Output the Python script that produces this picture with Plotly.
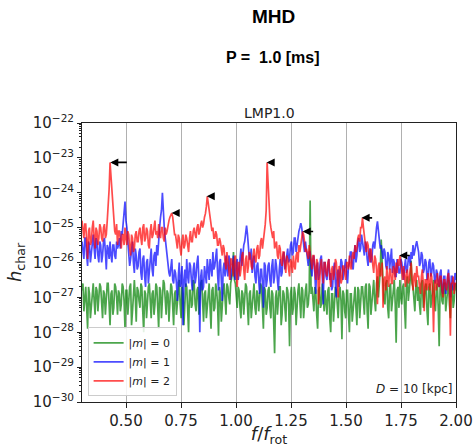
import numpy as np
import plotly.graph_objects as go

# ---------------- data (log10 of characteristic strain) ----------------
F_START, F_STOP = 0.30, 2.00

LOG_H_M0 = [
    -26.8,-26.6,-27.4,-27.0,-26.7,-27.3,-27.9,-26.7,-26.9,-27.6,-27.2,-26.8,-26.6,-27.1,-27.5,-26.7,-26.8,-27.4,-27.1,-26.6,
    -26.7,-27.2,-27.6,-26.8,-26.9,-27.5,-27.0,-26.6,-26.6,-27.2,-27.8,-26.9,-26.8,-27.5,-27.3,-26.6,-26.7,-27.0,-27.5,-26.8,
    -26.9,-27.4,-27.2,-26.6,-26.7,-27.1,-27.9,-26.8,-26.8,-27.5,-27.0,-26.7,-26.6,-27.8,-27.4,-26.9,-26.5,-27.0,-27.7,-26.7,
    -26.8,-27.1,-27.3,-26.6,-26.7,-27.4,-28.0,-26.8,-26.9,-27.6,-27.1,-26.7,-26.6,-27.2,-27.6,-26.9,-26.8,-27.5,-27.2,-26.6,
    -26.7,-27.3,-27.9,-26.7,-26.8,-27.6,-27.0,-26.5,-26.6,-27.3,-27.5,-26.8,-26.9,-27.7,-27.2,-26.6,-26.7,-27.1,-27.8,-26.9,
    -26.8,-27.5,-27.1,-26.6,-26.5,-27.2,-27.6,-26.7,-26.9,-27.8,-27.3,-26.6,-26.7,-27.4,-28.0,-26.8,-26.8,-27.3,-27.2,-26.5,
    -26.6,-27.2,-27.4,-26.8,-26.7,-27.5,-27.0,-26.6,-26.5,-27.1,-27.7,-26.9,-26.8,-27.6,-27.2,-26.7,-26.6,-27.3,-27.9,-26.8,
    -26.7,-27.4,-27.3,-26.6,-26.8,-27.2,-28.1,-26.7,-26.9,-27.7,-27.1,-26.8,-26.6,-27.3,-27.5,-26.6,-26.7,-27.0,-27.2,-26.6,
    -26.4,-26.3,-25.7,-26.5,-26.6,-27.1,-27.3,-26.7,-26.8,-27.3,-27.6,-26.8,-26.9,-27.5,-27.1,-26.6,-26.7,-27.2,-27.8,-26.9,
    -26.8,-27.6,-27.2,-26.7,-26.6,-27.3,-27.5,-26.8,-26.9,-27.4,-27.0,-26.6,-26.7,-27.2,-27.9,-26.7,-26.8,-27.5,-27.3,-26.8,
    -26.7,-27.3,-27.6,-26.8,-26.9,-27.7,-28.6,-27.0,-26.8,-27.5,-27.2,-26.7,-26.7,-27.8,-27.5,-26.8,-26.9,-27.4,-27.7,-26.7,
    -26.8,-27.2,-28.4,-26.9,-26.7,-27.5,-27.3,-26.7,-26.9,-27.8,-27.1,-26.8,-26.6,-27.4,-27.6,-26.7,-26.8,-27.6,-27.0,-26.8,
    -26.6,-27.3,-27.2,-26.8,-24.22,-26.9,-26.7,-27.2,-27.4,-26.7,-26.8,-27.5,-27.9,-26.8,-26.7,-27.3,-27.2,-26.6,-26.9,-27.4,
    -26.8,-27.3,-27.5,-26.8,-26.7,-27.6,-28.0,-26.9,-26.9,-27.7,-27.2,-26.7,-26.8,-27.4,-27.6,-26.9,-26.7,-27.1,-28.2,-26.8,
    -26.9,-27.4,-27.6,-26.8,-26.8,-27.5,-28.0,-26.9,-26.9,-27.7,-27.3,-26.8,-26.7,-27.3,-27.8,-26.7,-26.8,-27.6,-27.2,-26.7,
    -26.7,-27.2,-27.5,-26.7,-26.6,-27.4,-27.9,-26.6,-26.7,-27.5,-27.1,-26.6,-26.5,-27.1,-27.4,-26.6,-26.4,-27.0,-26.6,-26.2,
    -25.34,-26.3,-26.6,-27.1,-27.2,-26.6,-26.5,-27.3,-27.6,-26.7,-26.6,-27.4,-27.0,-26.6,-26.5,-27.2,-28.3,-26.8,-26.7,-27.3,
    -26.5,-27.0,-27.2,-26.7,-26.6,-27.3,-27.9,-26.6,-26.4,-27.1,-26.8,-26.5,-25.95,-26.6,-26.7,-27.2,-27.4,-26.7,-26.5,-27.1,
    -26.7,-27.2,-27.5,-26.6,-26.5,-27.3,-27.1,-26.7,-26.6,-27.4,-27.8,-26.7,-26.6,-27.3,-27.0,-26.6,-26.5,-27.1,-27.4,-26.8,
    -26.6,-27.3,-28.4,-26.7,-26.5,-27.1,-27.2,-26.6,-26.6,-27.4,-27.0,-26.7,-26.5,-27.2,-27.6,-26.6,-26.7,-27.3,-27.1,-26.6,
    -26.8,
]

LOG_H_M1 = [
    -25.4,-25.7,-25.9,-25.3,-25.3,-25.8,-26.1,-25.4,-25.5,-26.0,-25.7,-25.3,-25.2,-25.6,-25.9,-25.3,-25.4,-25.8,-26.0,-25.4,
    -25.5,-26.0,-25.8,-25.4,-25.3,-25.7,-26.2,-25.5,-25.6,-25.9,-25.4,-25.8,-26.0,-25.5,-25.5,-25.8,-25.9,-25.4,-25.6,-25.5,
    -25.3,-25.6,-25.1,-25.2,-24.9,-24.7,-24.25,-24.8,-25.0,-25.4,-25.7,-26.1,-25.9,-25.5,-25.4,-26.0,-26.3,-25.6,-25.8,-26.2,
    -26.1,-25.7,-25.6,-26.3,-26.5,-25.9,-25.8,-26.4,-26.7,-26.0,-25.9,-26.6,-26.2,-25.7,-25.6,-26.2,-26.4,-25.8,-25.7,-26.1,
    -25.5,-25.8,-25.2,-25.0,-24.7,-24.5,-24.0,-24.6,-25.0,-25.3,-25.6,-25.9,-26.0,-26.3,-26.4,-26.0,-25.9,-26.5,-26.6,-26.2,
    -26.3,-26.6,-27.1,-26.4,-26.0,-26.7,-26.5,-26.1,-27.8,-26.5,-26.2,-26.7,-25.9,-26.4,-26.6,-26.0,-26.1,-26.5,-26.8,-26.2,
    -26.0,-26.6,-26.4,-26.0,-25.8,-26.5,-28.0,-26.4,-26.2,-26.8,-26.7,-26.1,-26.3,-26.6,-25.9,-26.3,-26.5,-25.9,-26.1,-26.4,
    -25.7,-26.2,-26.1,-25.8,-25.6,-26.3,-26.8,-26.0,-25.9,-26.5,-27.1,-26.2,-26.0,-26.4,-25.8,-26.2,-26.4,-25.8,-25.9,-26.5,
    -26.2,-25.9,-25.8,-26.4,-26.5,-26.0,-25.9,-26.5,-26.3,-25.9,-25.6,-26.1,-25.7,-25.5,-25.4,-25.2,-24.94,-25.2,-25.5,-25.9,
    -25.9,-25.6,-26.3,-26.0,-25.8,-26.4,-26.6,-26.1,-26.0,-26.5,-26.9,-26.2,-26.2,-26.6,-27.3,-26.0,-26.1,-26.7,-26.5,-26.1,
    -26.0,-26.5,-26.7,-26.1,-25.9,-26.6,-26.4,-25.9,-26.1,-26.5,-26.8,-26.2,-25.9,-26.4,-26.3,-25.8,-25.7,-26.2,-26.0,-25.7,
    -25.6,-26.0,-25.9,-25.5,-25.4,-25.8,-25.7,-25.3,-25.3,-25.7,-25.5,-25.2,-25.1,-25.0,-24.87,-25.0,-25.3,-25.6,-25.7,-25.4,
    -25.6,-25.9,-26.1,-25.7,-25.7,-26.2,-26.4,-25.9,-25.8,-26.3,-26.9,-26.1,-26.0,-26.5,-26.3,-25.9,-25.8,-26.4,-27.2,-26.0,
    -26.0,-26.4,-26.5,-26.1,-25.9,-26.5,-26.3,-26.8,-26.7,-26.2,-26.0,-26.6,-27.0,-26.3,-26.2,-26.7,-26.4,-25.9,-26.0,-26.5,
    -26.3,-26.0,-25.9,-26.3,-26.6,-26.1,-26.0,-25.7,-25.7,-26.1,-26.2,-25.8,-25.5,-26.0,-25.8,-25.4,-25.3,-25.7,-25.6,-25.2,
    -25.4,-25.7,-25.8,-25.4,-25.5,-25.9,-26.1,-25.7,-25.6,-26.0,-25.9,-25.5,-25.4,-25.6,-25.2,-25.0,-24.82,-25.1,-25.3,-25.6,
    -25.5,-25.8,-25.9,-25.6,-25.7,-26.1,-26.2,-25.7,-25.8,-26.2,-25.9,-25.6,-26.3,-25.9,-26.0,-26.4,-26.4,-25.9,-26.1,-26.3,
    -26.3,-25.9,-26.0,-26.4,-26.5,-26.1,-25.9,-26.3,-26.2,-25.9,-25.8,-26.1,-25.7,-25.9,-25.5,-25.8,-25.6,-25.5,-25.39,-25.6,
    -25.7,-26.1,-26.0,-25.7,-25.8,-26.3,-26.2,-25.9,-26.0,-26.5,-26.4,-26.0,-25.9,-26.4,-26.3,-26.0,-26.1,-26.5,-26.6,-26.2,
    -26.3,-26.6,-26.7,-26.3,-26.2,-26.8,-26.9,-26.4,-26.4,-26.9,-26.6,-26.3,-26.2,-26.7,-27.0,-26.4,-26.4,-26.8,-26.7,-26.3,
    -26.5,
]

LOG_H_M2 = [
    -24.8,-25.2,-25.3,-24.9,-24.9,-25.4,-25.9,-25.1,-25.0,-25.5,-25.4,-25.0,-24.8,-25.3,-25.6,-25.0,-25.1,-25.5,-25.3,-24.9,
    -25.0,-25.3,-25.4,-25.0,-24.9,-25.3,-25.2,-24.8,-24.4,-23.9,-23.13,-23.6,-24.0,-24.5,-24.8,-25.1,-25.2,-24.9,-25.5,-25.1,
    -25.1,-25.4,-25.6,-25.2,-25.2,-25.5,-25.0,-25.3,-25.5,-25.1,-25.2,-25.6,-25.8,-25.2,-25.3,-25.7,-25.6,-25.2,-25.1,-25.4,
    -25.4,-25.1,-25.0,-25.3,-25.5,-25.0,-24.9,-25.4,-25.3,-25.0,-25.1,-25.5,-25.6,-25.1,-24.9,-25.3,-25.2,-25.0,-24.8,-25.2,
    -25.1,-25.3,-24.9,-25.2,-25.3,-25.0,-25.0,-25.3,-25.4,-25.0,-25.2,-25.1,-24.9,-24.8,-24.7,-24.6,-24.58,-24.7,-25.0,-25.2,
    -25.2,-25.5,-25.6,-25.2,-25.3,-25.6,-25.8,-25.4,-25.2,-25.6,-25.5,-25.2,-25.3,-25.5,-25.7,-25.3,-25.1,-25.4,-25.4,-25.1,
    -25.0,-25.2,-25.3,-25.0,-24.9,-25.2,-25.1,-24.9,-24.8,-25.0,-24.9,-24.7,-24.6,-24.4,-24.10,-24.3,-24.5,-24.7,-24.9,-25.1,
    -25.0,-25.3,-25.3,-25.1,-25.2,-25.5,-25.5,-25.3,-25.4,-25.7,-25.8,-25.5,-25.6,-26.0,-26.2,-25.7,-25.9,-26.2,-26.5,-25.9,
    -25.9,-26.2,-26.4,-25.9,-25.8,-26.3,-26.7,-26.0,-26.0,-26.4,-26.2,-25.8,-25.7,-26.2,-26.5,-25.9,-25.8,-26.3,-26.1,-25.7,
    -25.8,-26.1,-26.2,-25.8,-25.6,-25.9,-26.0,-25.6,-25.5,-25.9,-25.8,-25.4,-25.3,-25.6,-25.4,-25.1,-24.9,-24.5,-23.13,-23.7,
    -24.4,-24.8,-25.0,-25.2,-25.3,-25.1,-25.6,-25.5,-25.4,-25.8,-25.9,-25.5,-25.6,-26.0,-26.1,-25.7,-25.7,-26.1,-26.3,-25.8,
    -25.9,-26.2,-26.4,-25.9,-26.0,-26.3,-25.8,-26.1,-26.2,-25.8,-25.7,-26.0,-25.5,-25.7,-25.4,-25.3,-25.11,-25.2,-25.4,-25.7,
    -25.6,-25.8,-25.9,-25.5,-25.7,-26.0,-26.2,-25.8,-25.8,-26.2,-26.5,-25.9,-26.0,-27.2,-26.3,-26.1,-25.9,-26.3,-26.6,-26.0,
    -26.0,-26.3,-26.4,-26.0,-25.9,-26.4,-26.7,-26.2,-26.1,-26.5,-26.3,-25.9,-26.0,-26.4,-27.0,-26.1,-26.2,-26.6,-26.5,-26.1,
    -26.1,-26.3,-26.5,-26.0,-26.0,-26.2,-25.8,-26.1,-26.2,-25.8,-25.7,-25.9,-25.5,-25.7,-25.6,-25.3,-25.2,-25.4,-25.0,-25.0,
    -24.72,-25.0,-25.3,-25.5,-25.7,-25.4,-25.5,-25.8,-26.0,-25.6,-25.8,-26.1,-26.3,-25.8,-25.9,-26.2,-27.2,-26.1,-26.0,-26.4,
    -26.3,-26.0,-27.3,-26.5,-26.4,-26.8,-26.1,-26.5,-26.7,-26.2,-26.2,-26.6,-26.6,-26.1,-26.2,-26.5,-26.0,-26.3,-25.9,-26.1,
    -25.80,-26.0,-26.3,-26.5,-26.1,-26.4,-26.7,-26.3,-26.2,-26.6,-26.5,-26.2,-26.0,-26.5,-26.8,-26.4,-26.3,-26.7,-26.1,-26.4,
    -26.4,-26.7,-26.9,-26.4,-26.2,-26.6,-27.4,-26.5,-26.5,-26.8,-26.3,-26.6,-26.8,-26.3,-26.4,-26.9,-28.0,-26.6,-26.5,-26.8,
    -26.3,-26.6,-26.7,-26.4,-26.4,-26.8,-27.0,-26.5,-26.5,-26.7,-26.8,-26.4,-26.3,-26.7,-28.1,-26.6,-26.6,-26.4,-26.9,-26.6,
    -26.6,
]

SERIES_NAMES = ["|<i>m</i>| = 0", "|<i>m</i>| = 1", "|<i>m</i>| = 2"]
SERIES_COLORS = ["#008000", "#0000ff", "#ff0000"]

# arrows marking peak frequencies (tip position)
ARROW_F = [0.4286, 0.7077, 0.867, 1.1395, 1.303, 1.571, 1.742]
ARROW_LOG_H = [-23.13, -24.58, -24.10, -23.13, -25.11, -24.72, -25.80]
ARROW_LEN_PX = [18, 8, 8, 8, 12, 12, 12]

X_TICKS = [0.50, 0.75, 1.00, 1.25, 1.50, 1.75, 2.00]
Y_TICK_EXP = [-30, -29, -28, -27, -26, -25, -24, -23, -22]
MINOR_Y = [m * 10.0 ** e for e in Y_TICK_EXP[:-1] for m in range(2, 10)]

# ---------------- figure ----------------
fig = go.Figure()
for logs, name, col in zip([LOG_H_M0, LOG_H_M1, LOG_H_M2], SERIES_NAMES, SERIES_COLORS):
    vals = 10.0 ** np.array(logs)
    freq = np.linspace(F_START, F_STOP, len(vals))
    fig.add_trace(go.Scatter(x=freq, y=vals, mode="lines", name=name,
                             line=dict(color=col, width=1.7), opacity=0.7))

tick_font = dict(family="DejaVu Sans", size=15, color="#222")

fig.update_layout(
    width=474, height=447,
    margin=dict(l=82, r=18, t=123, b=45),
    paper_bgcolor="white", plot_bgcolor="white",
    showlegend=True,
    legend=dict(x=0.015, y=0.02, xanchor="left", yanchor="bottom",
                bgcolor="rgba(255,255,255,0.85)", bordercolor="#cccccc", borderwidth=1,
                font=dict(family="DejaVu Sans", size=11, color="#222"),
                itemwidth=30, tracegroupgap=0),
)

fig.update_xaxes(range=[F_START, F_STOP], tickvals=X_TICKS,
                 ticktext=[f"{v:.2f}" for v in X_TICKS],
                 showgrid=True, gridcolor="#b0b0b0", gridwidth=1,
                 ticks="outside", ticklen=5, tickcolor="#222",
                 showline=True, linecolor="#222", linewidth=1, mirror=True,
                 tickfont=tick_font, zeroline=False, automargin=False,
                 title=dict(text="<i>f</i>/<i>f</i><sub>rot</sub>",
                            font=dict(family="DejaVu Sans", size=18, color="#222"),
                            standoff=6))

fig.update_yaxes(type="log", range=[-30, -22],
                 tickvals=[10.0 ** e for e in Y_TICK_EXP],
                 ticktext=[f"10<sup>\u2212{-e}</sup>" for e in Y_TICK_EXP],
                 showgrid=False, ticks="outside", ticklen=4, tickcolor="#222",
                 minor=dict(tickmode="array", tickvals=MINOR_Y, ticks="outside",
                            ticklen=2, tickcolor="#222", showgrid=False),
                 showline=True, linecolor="#222", linewidth=1, mirror=True,
                 tickfont=tick_font, zeroline=False, automargin=False,
                 title=dict(text="<i>h</i><sub>char</sub>",
                            font=dict(family="DejaVu Sans", size=18, color="#222"),
                            standoff=6))

for fx, lh, ln in zip(ARROW_F, ARROW_LOG_H, ARROW_LEN_PX):
    fig.add_annotation(x=fx, y=lh, xref="x", yref="y", ax=ln, ay=0,
                       showarrow=True, arrowhead=2, arrowsize=1, arrowwidth=1.6,
                       arrowcolor="black", standoff=0, text="")

titles = [
    ("<b>MHD</b>", 19, "Liberation Sans", "black", 0.511, 430),
    ("<b>P =  1.0 [ms]</b>", 16, "Liberation Sans", "black", 0.511, 389),
    ("LMP1.0", 14, "DejaVu Sans", "#222", 0.5, 334),
]
for txt, sz, fam, colr, xp, ypx in titles:
    fig.add_annotation(x=xp, y=(ypx - 45) / (447 - 123 - 45), xref="paper", yref="paper",
                       text=txt, showarrow=False, xanchor="center", yanchor="middle",
                       font=dict(family=fam, size=sz, color=colr))

fig.add_annotation(x=0.997, y=0.045, xref="paper", yref="paper",
                   text="<i>D</i> = 10 [kpc]", showarrow=False,
                   xanchor="right", yanchor="middle",
                   font=dict(family="DejaVu Sans", size=12, color="#222"))

fig.write_html("out.html")
